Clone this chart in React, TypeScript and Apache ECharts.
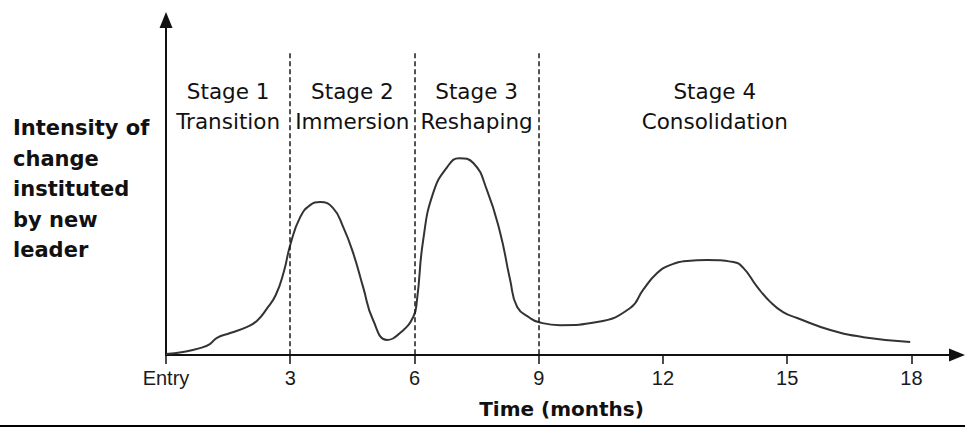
import React, { useEffect, useRef } from "react";
import * as echarts from "echarts";

// Curve: month since entry, relative intensity (0-100 scale)
const months = [
  0.0, 0.41, 0.82, 1.06, 1.23, 1.55, 1.96, 2.2, 2.44, 2.65, 2.85, 3.0, 3.24, 3.48, 3.72, 4.03,
  4.28, 4.52, 4.76, 5.0, 5.34, 5.65, 5.97, 6.06, 6.21, 6.45, 6.79, 7.08, 7.42, 7.75, 8.07, 8.31,
  8.48, 8.79, 8.99, 9.52, 10.41, 11.21, 11.52, 11.86, 12.17, 12.58, 13.07, 13.7, 13.94, 14.28,
  14.59, 14.9, 15.24, 16.04, 16.84, 17.97,
];
const intensity = [
  0.3, 0.9, 2.0, 3.2, 5.0, 6.4, 8.2, 10.0, 13.6, 17.5, 24.5, 32.1, 40.2, 43.7, 44.6, 42.9,
  37.3, 29.7, 19.8, 10.2, 4.4, 6.4, 11.1, 16.0, 33.5, 47.2, 54.8, 57.4, 56.0, 48.1, 35.6, 21.9,
  14.0, 10.8, 9.6, 8.7, 9.6, 13.7, 19.0, 23.9, 26.2, 27.4, 27.7, 27.1, 25.4, 19.8,
  15.5, 12.5, 10.8, 7.3, 5.2, 3.8,
];

const tickMonths = [0, 3, 6, 9, 12, 15, 18];
const tickLabels = ["Entry", "3", "6", "9", "12", "15", "18"];
const stageBoundaries = [3, 6, 9];
const stageBoundaryTop = 88;
const stageTitles = ["Stage 1", "Stage 2", "Stage 3", "Stage 4"];
const stageNames = ["Transition", "Immersion", "Reshaping", "Consolidation"];
const stageCenters = [1.5, 4.5, 7.5, 13.25];
const stageLabelLevel = 72.6;
const xAxisTitle = "Time (months)";
const yAxisTitleLines = ["Intensity of", "change", "instituted", "by new", "leader"];

export default function App() {
  const ref = useRef<HTMLDivElement>(null);

  useEffect(() => {
    if (!ref.current) return;
    const chart = echarts.init(ref.current, null, { renderer: "svg" });
    chart.setOption({
      animation: false,
      backgroundColor: "#ffffff",
      grid: { left: 166, right: 8, top: 20, bottom: 73, containLabel: false },
      xAxis: {
        type: "value",
        min: 0,
        max: 19.1,
        name: xAxisTitle,
        nameLocation: "middle",
        nameGap: 44,
        nameTextStyle: {
          fontFamily: "DejaVu Sans",
          fontWeight: "bold",
          fontSize: 20,
          color: "#111",
        },
        axisLine: {
          show: true,
          symbol: ["none", "triangle"],
          symbolSize: [13, 16],
          lineStyle: { color: "#111", width: 2 },
        },
        axisTick: {
          show: true,
          customValues: tickMonths,
          length: 9,
          lineStyle: { color: "#111", width: 1.5 },
        },
        axisLabel: {
          show: true,
          customValues: tickMonths,
          margin: 13,
          fontFamily: "Liberation Sans",
          fontSize: 20,
          color: "#1a1a1a",
          formatter: (v: number) => {
            const i = tickMonths.indexOf(v);
            return i >= 0 ? tickLabels[i] : "";
          },
        },
        splitLine: { show: false },
      },
      yAxis: {
        type: "value",
        min: 0,
        max: 97.7,
        axisLine: {
          show: true,
          symbol: ["none", "triangle"],
          symbolSize: [13, 16],
          lineStyle: { color: "#111", width: 2 },
        },
        axisTick: { show: false },
        axisLabel: { show: false },
        splitLine: { show: false },
      },
      graphic: [
        {
          type: "text",
          left: 13,
          top: 113,
          style: {
            text: yAxisTitleLines.join("\n"),
            fontFamily: "DejaVu Sans",
            fontWeight: "bold",
            fontSize: 21,
            lineHeight: 30.5,
            fill: "#111",
          },
        },
        {
          type: "rect",
          shape: { x: 0, y: 425, width: 965, height: 2 },
          style: { fill: "#000" },
        },
      ],
      series: [
        {
          type: "line",
          data: months.map((m, i) => [m, intensity[i]]),
          smooth: 0.5,
          symbol: "none",
          lineStyle: { color: "#333", width: 2 },
          markLine: {
            silent: true,
            symbol: ["none", "none"],
            label: { show: false },
            lineStyle: { color: "#1a1a1a", type: [5, 3], width: 1.5 },
            data: stageBoundaries.map((b) => [
              { coord: [b, stageBoundaryTop] },
              { coord: [b, 0] },
            ]),
          },
          z: 3,
        },
        {
          type: "scatter",
          symbolSize: 0,
          silent: true,
          itemStyle: { color: "#111", opacity: 1 },
          data: stageCenters.map((c, i) => ({
            value: [c, stageLabelLevel],
            name: stageTitles[i] + "\n" + stageNames[i],
          })),
          label: {
            show: true,
            position: [0, 0],
            formatter: (p: any) => p.name,
            fontFamily: "DejaVu Sans",
            fontSize: 21.5,
            lineHeight: 30,
            align: "center",
            verticalAlign: "middle",
            color: "#111",
            opacity: 1,
            textBorderWidth: 0,
          },
        },
      ],
    });
    return () => chart.dispose();
  }, []);

  return (
    <div
      ref={ref}
      style={{ position: "absolute", left: 0, top: 0, width: 965, height: 428 }}
    />
  );
}
